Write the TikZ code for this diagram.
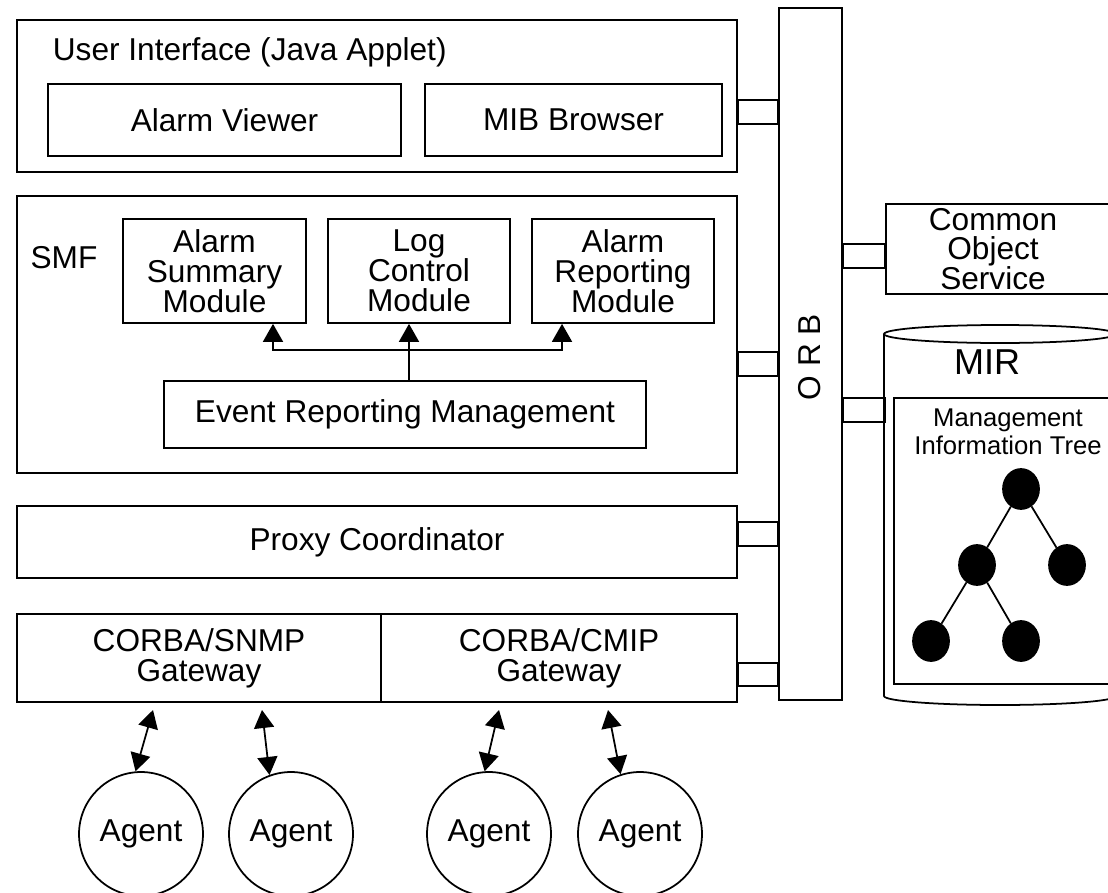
\documentclass[tikz,border=0pt]{standalone}
\usepackage{fontspec}
\setmainfont{Liberation Sans}
\usetikzlibrary{arrows.meta, calc, shapes.geometric}
\begin{document}
\begin{tikzpicture}[x=0.02cm, y=-0.02cm, line width=1pt,
    >={Triangle[length=0.36cm, width=0.4cm]},
    every node/.style={font=\fontsize{18}{17}\selectfont, align=center, inner sep=0pt},
    box/.style={draw},
    agent/.style={draw, circle, minimum size=2.48cm},
    leaf/.style={draw, ellipse, fill=black, minimum width=0.72cm, minimum height=0.8cm}]
    \useasboundingbox (0,0) rectangle (1108,892);
    \clip (0,0) rectangle (1108,892);

    % Nodes
    \node[box, minimum width=14.4cm, minimum height=3.04cm] at (377,96) (ui) {};
    \node[anchor=west] at (52,52) (uilabel) {User Interface (Java Applet)};
    \node[box, minimum width=7.06cm, minimum height=1.44cm] at (224.5,120) (viewer) {Alarm Viewer};
    \node[box, minimum width=5.94cm, minimum height=1.44cm] at (573.5,120) (mib) {MIB Browser};

    \node[box, minimum width=14.4cm, minimum height=5.54cm] at (377,334.5) (smf) {};
    \node at (64,258) (smflabel) {SMF};
    \node[box, minimum width=3.66cm, minimum height=2.08cm] at (214.5,271) (asm) {Alarm\\Summary\\Module};
    \node[box, minimum width=3.64cm, minimum height=2.08cm] at (419,271) (lcm) {Log\\Control\\Module};
    \node[box, minimum width=3.64cm, minimum height=2.08cm] at (623,271) (arm) {Alarm\\Reporting\\Module};
    \node[box, minimum width=9.64cm, minimum height=1.34cm] at (405,414.5) (erm) {Event Reporting Management};

    \node[box, minimum width=14.4cm, minimum height=1.44cm] at (377,542) (proxy) {Proxy Coordinator};
    \node[box, minimum width=7.28cm, minimum height=1.76cm] at (199,658) (snmp) {CORBA/SNMP\\Gateway};
    \node[box, minimum width=7.12cm, minimum height=1.76cm] at (559,658) (cmip) {CORBA/CMIP\\Gateway};

    \node[box, minimum width=1.26cm, minimum height=13.84cm] at (810.5,354) (orb) {};
    \node[rotate=90] at (810,357) (orblabel) {O R B};

    \node[box, minimum width=4.72cm, minimum height=1.8cm,
        label={[xshift=-0.22cm]center:Common\\Object\\Service}] at (1004,249) (cos) {};

    % MIR
    \draw (1000,334) ellipse [x radius=2.32cm, y radius=0.18cm];
    \draw (884,334) -- (884,696) arc[start angle=180, end angle=360, x radius=2.32cm, y radius=0.18cm] -- (1116,334);
    \coordinate (mirport) at (885,410);
    \node[font=\fontsize{20.5}{20}\selectfont] at (987,362) (mirlabel) {MIR};
    \node[box, minimum width=4.72cm, minimum height=5.72cm] at (1012,541) (mit) {};
    \node[font=\fontsize{14.6}{16}\selectfont] at (1008,432) (mitlabel) {Management\\Information Tree};
    \node[leaf] at (1021,489) (t0) {};
    \node[leaf] at (977,565) (t1) {};
    \node[leaf] at (1067,565) (t2) {};
    \node[leaf] at (931,641) (t3) {};
    \node[leaf] at (1021,641) (t4) {};

    \node[agent] at (141,834) (a1) {Agent};
    \node[agent] at (291,834) (a2) {Agent};
    \node[agent] at (489,834) (a3) {Agent};
    \node[agent] at (640,834) (a4) {Agent};
    \coordinate (g1) at (153,710);
    \coordinate (g2) at (262,710);
    \coordinate (g3) at (499,710);
    \coordinate (g4) at (608,710);
    \coordinate (split) at (409,350);

    % Edges
    \draw[->] (erm.north -| split) -- (split |- lcm.south);
    \draw[->] (split) -| ([xshift=1.17cm]asm.south);
    \draw[->] (split) -| ([xshift=-1.22cm]arm.south);

    \draw (t0) -- (t1);
    \draw (t0) -- (t2);
    \draw (t1) -- (t3);
    \draw (t1) -- (t4);

    \draw[<->] (g1) -- (a1.95);
    \draw[<->] (g2) -- (a2.110);
    \draw[<->] (g3) -- (a3.94);
    \draw[<->] (g4) -- (a4.108);

    % ORB ports
    \draw ($(ui.east)+(0,4)$) rectangle ($(ui.east -| orb.west)+(0,28)$);
    \draw ($(smf.east)+(0,17.5)$) rectangle ($(smf.east -| orb.west)+(0,41.5)$);
    \draw ($(proxy.east)+(0,-20)$) rectangle ($(proxy.east -| orb.west)+(0,4)$);
    \draw ($(cmip.east)+(0,5)$) rectangle ($(cmip.east -| orb.west)+(0,28)$);
    \draw ($(cos.west -| orb.east)+(0,-5)$) rectangle ($(cos.west)+(0,19)$);
    \draw ($(mirport -| orb.east)+(0,-12)$) rectangle ($(mirport)+(0,12)$);
\end{tikzpicture}
\end{document}
